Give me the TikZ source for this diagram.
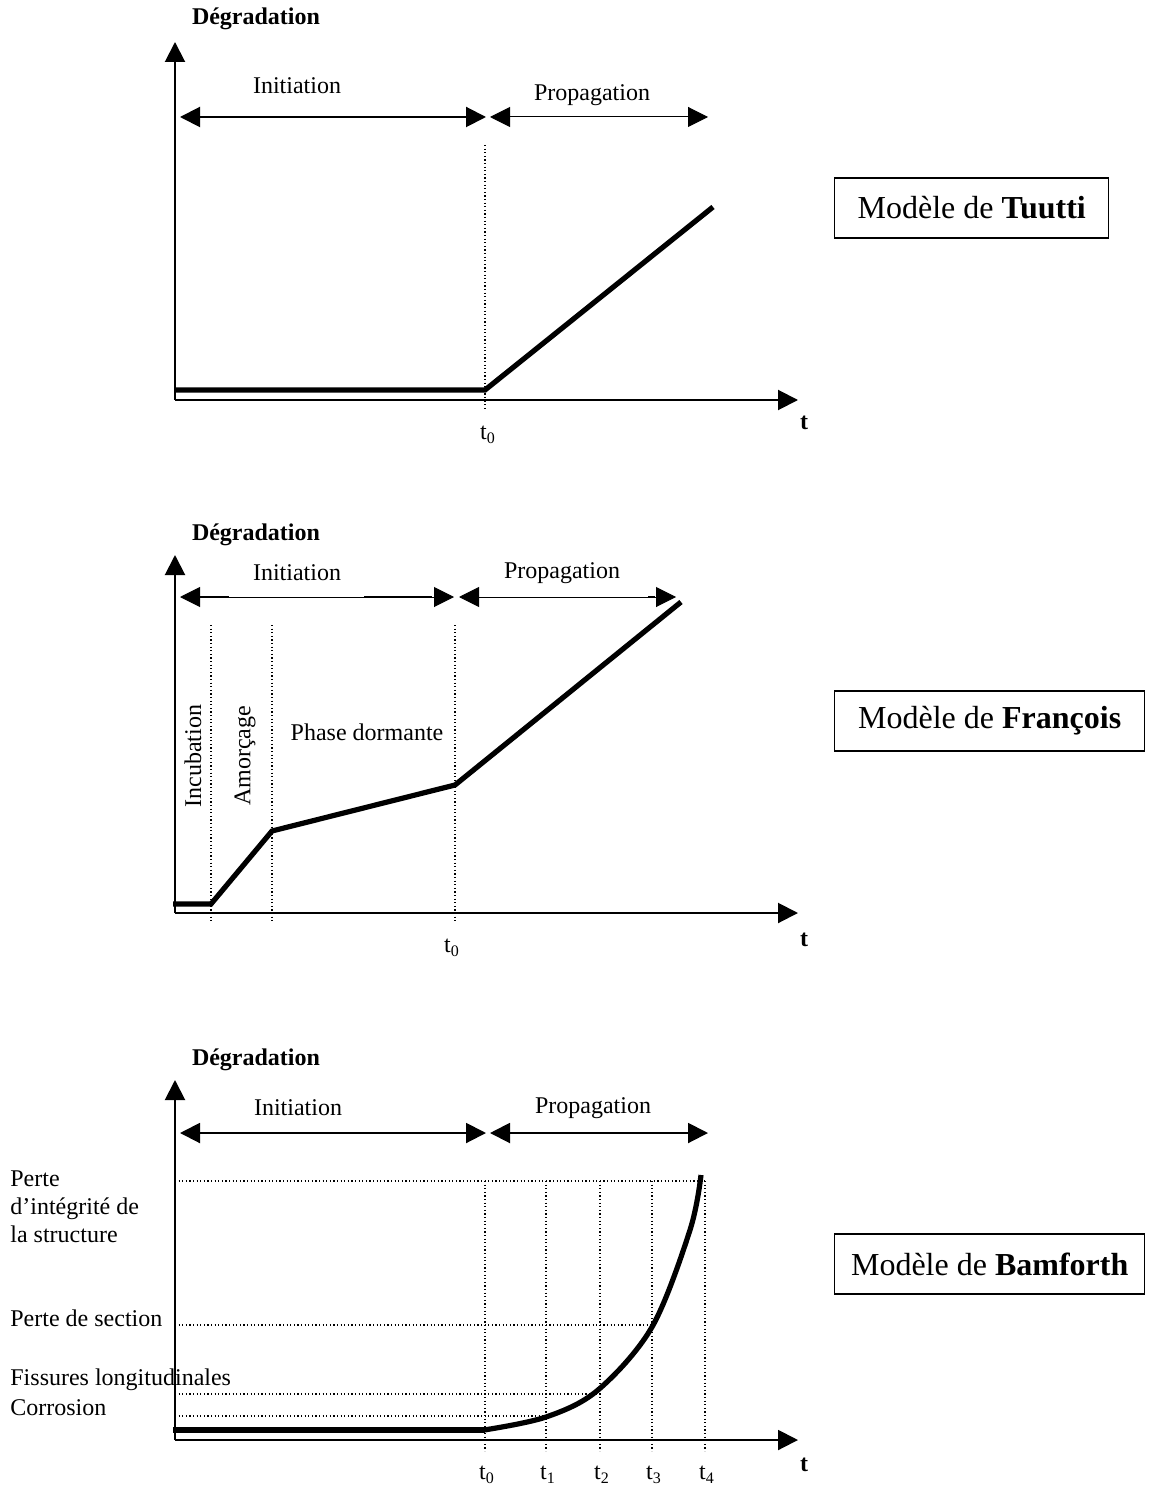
\documentclass[tikz,border=0pt]{standalone}
\usepackage{fontspec}
\setmainfont{Liberation Serif}
\usetikzlibrary{arrows.meta}
\tikzset{
  axis/.style={line width=1pt,-{Triangle[length=10pt,width=10pt]}},
  span/.style={line width=1pt,{Triangle[length=10pt,width=10pt]}-{Triangle[length=10pt,width=10pt]}},
  spanthin/.style={line width=0.5pt,{Triangle[length=10pt,width=10pt]}-{Triangle[length=10pt,width=10pt]}},
  curve/.style={line width=2.6pt,line join=miter},
  guide/.style={line width=0.6pt,dash pattern=on 0.6pt off 1.2pt},
  lbl/.style={font=\fontsize{12}{14}\selectfont,inner sep=0pt},
  blbl/.style={font=\fontsize{12}{14}\selectfont\bfseries,inner sep=0pt},
  model/.style={draw,line width=0.7pt,font=\fontsize{16}{19}\selectfont,minimum height=30pt,inner sep=0pt,anchor=west},
}
\begin{document}
\begin{tikzpicture}[x=0.5pt,y=-0.5pt]
\useasboundingbox (0,0) rectangle (1155,1486);

% ================= Panel 1 : Tuutti =================
\node[blbl] (d1) at (256,19) {Dégradation};
\coordinate (o1) at (175,400);
\coordinate (y1) at (175,42);
\coordinate (x1) at (798,400);
\draw[axis] (o1) -- (y1);
\draw[axis] (o1) -- (x1);
\coordinate (i1a) at (180,117);
\coordinate (i1b) at (486,117);
\coordinate (p1a) at (490,117);
\coordinate (p1b) at (708,117);
\draw[span] (i1a) -- (i1b);
\draw[spanthin] (p1a) -- (p1b);
\node[lbl] (ti1) at (297,86) {Initiation};
\node[lbl] (tp1) at (592,95) {Propagation};
\coordinate (g1a) at (485,145);
\coordinate (g1b) at (485,410);
\draw[guide] (g1a) -- (g1b);
\coordinate (c1a) at (175,390);
\coordinate (c1b) at (485,390);
\coordinate (c1c) at (713,207);
\draw[curve] (c1a) -- (c1b) -- (c1c);
\node[lbl] (t01) at (488,435) {t\textsubscript{0}};
\node[blbl] (tt1) at (804,423) {t};
\node[model,minimum width=137pt] (m1) at (834,208) {Modèle de \textbf{Tuutti}};

% ================= Panel 2 : François =================
\node[blbl] (d2) at (256,535) {Dégradation};
\coordinate (o2) at (175,913);
\coordinate (y2) at (175,555);
\coordinate (x2) at (798,913);
\draw[axis] (o2) -- (y2);
\draw[axis] (o2) -- (x2);
\coordinate (i2a) at (180,597);
\coordinate (i2b) at (454,597);
\coordinate (p2a) at (459,597);
\coordinate (p2b) at (676,597);
\draw[spanthin] (i2a) -- (i2b);
\draw[line width=1pt] (200,597) -- (229,597) (364,597) -- (432,597);
\draw[spanthin] (p2a) -- (p2b);
\draw[line width=1pt] (648,597) -- (655,597);
\node[lbl] (ti2) at (297,573) {Initiation};
\node[lbl] (tp2) at (562,573) {Propagation};
\foreach \n/\x in {a/211,b/272,c/455}{
  \coordinate (g2\n a) at (\x,625);
  \coordinate (g2\n b) at (\x,921);
  \draw[guide] (g2\n a) -- (g2\n b);
}
\coordinate (c2a) at (173,904);
\coordinate (c2b) at (211,904);
\coordinate (c2c) at (272,831);
\coordinate (c2d) at (455,785);
\coordinate (c2e) at (681,602);
\draw[curve] (c2a) -- (c2b) -- (c2c) -- (c2d) -- (c2e);
\node[lbl,rotate=90] (inc) at (193,756) {Incubation};
\node[lbl,rotate=90] (amo) at (245,756) {Amorçage};
\node[lbl] (pd) at (367,732) {Phase dormante};
\node[lbl] (t02) at (452,948) {t\textsubscript{0}};
\node[blbl] (tt2) at (804,940) {t};
\node[model,minimum width=155pt] (m2) at (834,721) {Modèle de \textbf{François}};

% ================= Panel 3 : Bamforth =================
\node[blbl] (d3) at (256,1060) {Dégradation};
\coordinate (o3) at (175,1440);
\coordinate (y3) at (175,1080);
\coordinate (x3) at (798,1440);
\draw[axis] (o3) -- (y3);
\draw[axis] (o3) -- (x3);
\coordinate (i3a) at (180,1133);
\coordinate (i3b) at (486,1133);
\coordinate (p3a) at (490,1133);
\coordinate (p3b) at (708,1133);
\draw[span] (i3a) -- (i3b);
\draw[span] (p3a) -- (p3b);
\node[lbl] (ti3) at (298,1108) {Initiation};
\node[lbl] (tp3) at (593,1108) {Propagation};
% horizontal guides
\coordinate (h1a) at (175,1181); \coordinate (h1b) at (705,1181);
\coordinate (h2a) at (175,1325); \coordinate (h2b) at (652,1325);
\coordinate (h3a) at (175,1394); \coordinate (h3b) at (600,1394);
\coordinate (h4a) at (175,1416); \coordinate (h4b) at (546,1416);
\draw[guide] (h1a) -- (h1b);
\draw[guide] (h2a) -- (h2b);
\draw[guide] (h3a) -- (h3b);
\draw[guide] (h4a) -- (h4b);
% vertical guides
\foreach \n/\x in {0/485,1/546,2/600,3/652,4/705}{
  \coordinate (v\n a) at (\x,1181);
  \coordinate (v\n b) at (\x,1451);
  \draw[guide] (v\n a) -- (v\n b);
  \node[lbl] (tl\n) at (\x+2,1475) {t\textsubscript{\n}};
}
\coordinate (c3a) at (173,1430);
\coordinate (c3b) at (485,1430);
\draw[curve] (c3a) -- (c3b);
\draw[curve,line cap=butt] plot[smooth,tension=0.55] coordinates {(484,1430) (546,1417) (598,1390) (652,1327) (690,1230) (701,1175)};
\node[blbl] (tt3) at (804,1465) {t};
\node[lbl,anchor=west,align=left] (lp1) at (10,1207) {Perte\\d’intégrité de\\la structure};
\node[lbl,anchor=west] (lp2) at (10,1318) {Perte de section};
\node[lbl,anchor=west] (lp3) at (10,1380) {Fissures longitudinales};
\node[lbl,anchor=west] (lp4) at (10,1408) {Corrosion};
\node[model,minimum width=155pt] (m3) at (834,1264) {Modèle de \textbf{Bamforth}};
\end{tikzpicture}
\end{document}
